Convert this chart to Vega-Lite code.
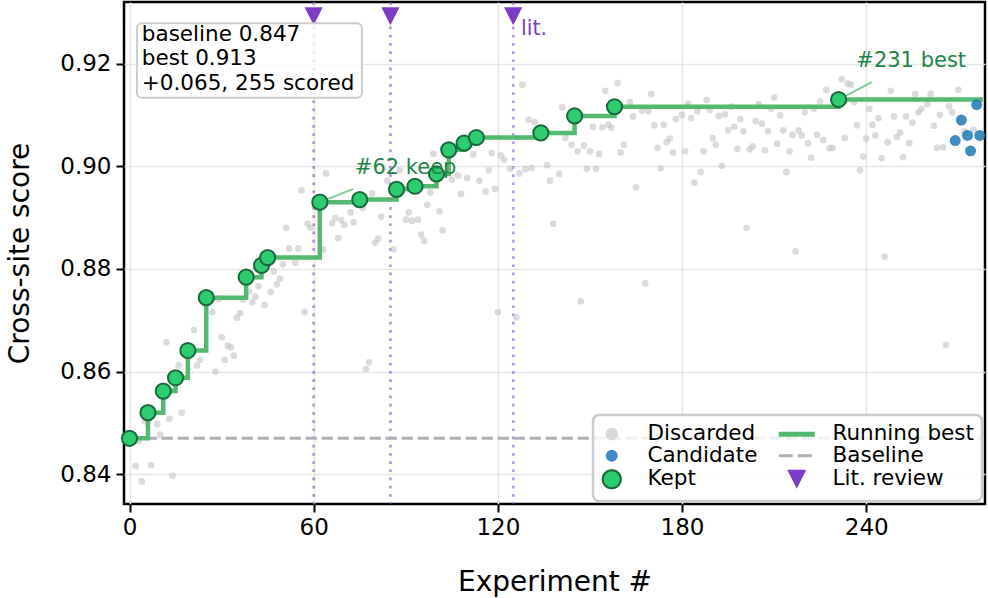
{
  "$schema": "https://vega.github.io/schema/vega-lite/v6.json",
  "autosize": {"type": "none"},
  "width": 861,
  "height": 502,
  "padding": {"left": 124, "top": 2, "right": 3, "bottom": 94},
  "background": "white",
  "config": {
    "font": "DejaVu Sans",
    "view": {"stroke": "black", "strokeWidth": 2.5},
    "legend": {"strokeWidth": 2.5},
    "axis": {
      "domain": false,
      "grid": true,
      "gridColor": "#e6e6e6",
      "gridWidth": 1.5,
      "tickColor": "black",
      "tickWidth": 2,
      "tickSize": 8,
      "labelColor": "black",
      "labelFontSize": 23,
      "titleColor": "black",
      "titleFontSize": 28,
      "titleFontWeight": "normal"
    }
  },
  "datasets": {
    "runs": [
      {"exp": 0, "score": 0.847, "status": "Kept"},
      {"exp": 6, "score": 0.852, "status": "Kept"},
      {"exp": 11, "score": 0.8562, "status": "Kept"},
      {"exp": 15, "score": 0.8588, "status": "Kept"},
      {"exp": 19, "score": 0.8641, "status": "Kept"},
      {"exp": 25, "score": 0.8744, "status": "Kept"},
      {"exp": 38, "score": 0.8784, "status": "Kept"},
      {"exp": 43, "score": 0.8807, "status": "Kept"},
      {"exp": 45, "score": 0.8822, "status": "Kept"},
      {"exp": 62, "score": 0.893, "status": "Kept", "note": "#62 keep"},
      {"exp": 75, "score": 0.8935, "status": "Kept"},
      {"exp": 87, "score": 0.8955, "status": "Kept"},
      {"exp": 93, "score": 0.8961, "status": "Kept"},
      {"exp": 100, "score": 0.8985, "status": "Kept"},
      {"exp": 104, "score": 0.9032, "status": "Kept"},
      {"exp": 109, "score": 0.9045, "status": "Kept"},
      {"exp": 113, "score": 0.9056, "status": "Kept"},
      {"exp": 134, "score": 0.9065, "status": "Kept"},
      {"exp": 145, "score": 0.9098, "status": "Kept"},
      {"exp": 158, "score": 0.9116, "status": "Kept"},
      {"exp": 231, "score": 0.913, "status": "Kept", "note": "#231 best"},
      {"exp": 269, "score": 0.905, "status": "Candidate"},
      {"exp": 271, "score": 0.909, "status": "Candidate"},
      {"exp": 273, "score": 0.906, "status": "Candidate"},
      {"exp": 274, "score": 0.903, "status": "Candidate"},
      {"exp": 276, "score": 0.912, "status": "Candidate"},
      {"exp": 277, "score": 0.906, "status": "Candidate"},
      {"exp": 2, "score": 0.8416, "status": "Discarded"},
      {"exp": 3, "score": 0.8465, "status": "Discarded"},
      {"exp": 4, "score": 0.8386, "status": "Discarded"},
      {"exp": 5, "score": 0.8503, "status": "Discarded"},
      {"exp": 7, "score": 0.8418, "status": "Discarded"},
      {"exp": 9, "score": 0.8498, "status": "Discarded"},
      {"exp": 10, "score": 0.8477, "status": "Discarded"},
      {"exp": 12, "score": 0.8657, "status": "Discarded"},
      {"exp": 13, "score": 0.8508, "status": "Discarded"},
      {"exp": 14, "score": 0.8397, "status": "Discarded"},
      {"exp": 16, "score": 0.8612, "status": "Discarded"},
      {"exp": 17, "score": 0.852, "status": "Discarded"},
      {"exp": 21, "score": 0.8681, "status": "Discarded"},
      {"exp": 22, "score": 0.8612, "status": "Discarded"},
      {"exp": 23, "score": 0.8623, "status": "Discarded"},
      {"exp": 27, "score": 0.8716, "status": "Discarded"},
      {"exp": 28, "score": 0.86, "status": "Discarded"},
      {"exp": 29, "score": 0.8741, "status": "Discarded"},
      {"exp": 30, "score": 0.8667, "status": "Discarded"},
      {"exp": 31, "score": 0.8623, "status": "Discarded"},
      {"exp": 32, "score": 0.865, "status": "Discarded"},
      {"exp": 33, "score": 0.8647, "status": "Discarded"},
      {"exp": 34, "score": 0.8631, "status": "Discarded"},
      {"exp": 35, "score": 0.8705, "status": "Discarded"},
      {"exp": 36, "score": 0.8714, "status": "Discarded"},
      {"exp": 37, "score": 0.874, "status": "Discarded"},
      {"exp": 39, "score": 0.8756, "status": "Discarded"},
      {"exp": 40, "score": 0.8735, "status": "Discarded"},
      {"exp": 41, "score": 0.8746, "status": "Discarded"},
      {"exp": 42, "score": 0.8766, "status": "Discarded"},
      {"exp": 44, "score": 0.873, "status": "Discarded"},
      {"exp": 46, "score": 0.8755, "status": "Discarded"},
      {"exp": 47, "score": 0.8795, "status": "Discarded"},
      {"exp": 48, "score": 0.877, "status": "Discarded"},
      {"exp": 49, "score": 0.8781, "status": "Discarded"},
      {"exp": 50, "score": 0.8809, "status": "Discarded"},
      {"exp": 51, "score": 0.888, "status": "Discarded"},
      {"exp": 52, "score": 0.884, "status": "Discarded"},
      {"exp": 54, "score": 0.8812, "status": "Discarded"},
      {"exp": 55, "score": 0.884, "status": "Discarded"},
      {"exp": 56, "score": 0.8953, "status": "Discarded"},
      {"exp": 57, "score": 0.8716, "status": "Discarded"},
      {"exp": 58, "score": 0.8888, "status": "Discarded"},
      {"exp": 59, "score": 0.888, "status": "Discarded"},
      {"exp": 63, "score": 0.8838, "status": "Discarded"},
      {"exp": 64, "score": 0.8986, "status": "Discarded"},
      {"exp": 66, "score": 0.8889, "status": "Discarded"},
      {"exp": 67, "score": 0.8899, "status": "Discarded"},
      {"exp": 68, "score": 0.886, "status": "Discarded"},
      {"exp": 69, "score": 0.8895, "status": "Discarded"},
      {"exp": 70, "score": 0.8886, "status": "Discarded"},
      {"exp": 72, "score": 0.891, "status": "Discarded"},
      {"exp": 73, "score": 0.8891, "status": "Discarded"},
      {"exp": 76, "score": 0.8919, "status": "Discarded"},
      {"exp": 77, "score": 0.8605, "status": "Discarded"},
      {"exp": 78, "score": 0.8618, "status": "Discarded"},
      {"exp": 79, "score": 0.8947, "status": "Discarded"},
      {"exp": 80, "score": 0.8851, "status": "Discarded"},
      {"exp": 81, "score": 0.8859, "status": "Discarded"},
      {"exp": 82, "score": 0.8902, "status": "Discarded"},
      {"exp": 84, "score": 0.8972, "status": "Discarded"},
      {"exp": 86, "score": 0.8838, "status": "Discarded"},
      {"exp": 88, "score": 0.8992, "status": "Discarded"},
      {"exp": 90, "score": 0.8896, "status": "Discarded"},
      {"exp": 91, "score": 0.891, "status": "Discarded"},
      {"exp": 92, "score": 0.8894, "status": "Discarded"},
      {"exp": 94, "score": 0.8896, "status": "Discarded"},
      {"exp": 95, "score": 0.8867, "status": "Discarded"},
      {"exp": 96, "score": 0.8855, "status": "Discarded"},
      {"exp": 97, "score": 0.8925, "status": "Discarded"},
      {"exp": 98, "score": 0.8949, "status": "Discarded"},
      {"exp": 99, "score": 0.9024, "status": "Discarded"},
      {"exp": 101, "score": 0.8912, "status": "Discarded"},
      {"exp": 102, "score": 0.8875, "status": "Discarded"},
      {"exp": 105, "score": 0.8974, "status": "Discarded"},
      {"exp": 107, "score": 0.8982, "status": "Discarded"},
      {"exp": 108, "score": 0.8946, "status": "Discarded"},
      {"exp": 110, "score": 0.8977, "status": "Discarded"},
      {"exp": 112, "score": 0.9023, "status": "Discarded"},
      {"exp": 114, "score": 0.8972, "status": "Discarded"},
      {"exp": 116, "score": 0.8951, "status": "Discarded"},
      {"exp": 117, "score": 0.8992, "status": "Discarded"},
      {"exp": 118, "score": 0.9026, "status": "Discarded"},
      {"exp": 119, "score": 0.8956, "status": "Discarded"},
      {"exp": 120, "score": 0.8716, "status": "Discarded"},
      {"exp": 121, "score": 0.9021, "status": "Discarded"},
      {"exp": 122, "score": 0.9013, "status": "Discarded"},
      {"exp": 124, "score": 0.8995, "status": "Discarded"},
      {"exp": 126, "score": 0.8706, "status": "Discarded"},
      {"exp": 127, "score": 0.8986, "status": "Discarded"},
      {"exp": 128, "score": 0.9159, "status": "Discarded"},
      {"exp": 129, "score": 0.8994, "status": "Discarded"},
      {"exp": 130, "score": 0.9091, "status": "Discarded"},
      {"exp": 131, "score": 0.8997, "status": "Discarded"},
      {"exp": 132, "score": 0.9086, "status": "Discarded"},
      {"exp": 136, "score": 0.9002, "status": "Discarded"},
      {"exp": 137, "score": 0.8972, "status": "Discarded"},
      {"exp": 138, "score": 0.8888, "status": "Discarded"},
      {"exp": 140, "score": 0.8985, "status": "Discarded"},
      {"exp": 141, "score": 0.9115, "status": "Discarded"},
      {"exp": 142, "score": 0.9055, "status": "Discarded"},
      {"exp": 144, "score": 0.9042, "status": "Discarded"},
      {"exp": 146, "score": 0.9029, "status": "Discarded"},
      {"exp": 147, "score": 0.8737, "status": "Discarded"},
      {"exp": 148, "score": 0.904, "status": "Discarded"},
      {"exp": 149, "score": 0.8995, "status": "Discarded"},
      {"exp": 150, "score": 0.9029, "status": "Discarded"},
      {"exp": 151, "score": 0.9077, "status": "Discarded"},
      {"exp": 152, "score": 0.8995, "status": "Discarded"},
      {"exp": 153, "score": 0.9024, "status": "Discarded"},
      {"exp": 154, "score": 0.9076, "status": "Discarded"},
      {"exp": 155, "score": 0.9147, "status": "Discarded"},
      {"exp": 156, "score": 0.9081, "status": "Discarded"},
      {"exp": 157, "score": 0.9075, "status": "Discarded"},
      {"exp": 159, "score": 0.9162, "status": "Discarded"},
      {"exp": 160, "score": 0.9027, "status": "Discarded"},
      {"exp": 161, "score": 0.9042, "status": "Discarded"},
      {"exp": 163, "score": 0.9125, "status": "Discarded"},
      {"exp": 164, "score": 0.9097, "status": "Discarded"},
      {"exp": 165, "score": 0.8959, "status": "Discarded"},
      {"exp": 167, "score": 0.9108, "status": "Discarded"},
      {"exp": 168, "score": 0.8772, "status": "Discarded"},
      {"exp": 169, "score": 0.9107, "status": "Discarded"},
      {"exp": 170, "score": 0.9141, "status": "Discarded"},
      {"exp": 171, "score": 0.908, "status": "Discarded"},
      {"exp": 172, "score": 0.9036, "status": "Discarded"},
      {"exp": 173, "score": 0.8996, "status": "Discarded"},
      {"exp": 174, "score": 0.9081, "status": "Discarded"},
      {"exp": 175, "score": 0.9047, "status": "Discarded"},
      {"exp": 176, "score": 0.9054, "status": "Discarded"},
      {"exp": 177, "score": 0.9027, "status": "Discarded"},
      {"exp": 178, "score": 0.9092, "status": "Discarded"},
      {"exp": 180, "score": 0.91, "status": "Discarded"},
      {"exp": 181, "score": 0.9029, "status": "Discarded"},
      {"exp": 182, "score": 0.9122, "status": "Discarded"},
      {"exp": 183, "score": 0.9094, "status": "Discarded"},
      {"exp": 184, "score": 0.8968, "status": "Discarded"},
      {"exp": 185, "score": 0.9107, "status": "Discarded"},
      {"exp": 186, "score": 0.8989, "status": "Discarded"},
      {"exp": 187, "score": 0.9029, "status": "Discarded"},
      {"exp": 188, "score": 0.9129, "status": "Discarded"},
      {"exp": 189, "score": 0.911, "status": "Discarded"},
      {"exp": 190, "score": 0.9055, "status": "Discarded"},
      {"exp": 191, "score": 0.9042, "status": "Discarded"},
      {"exp": 192, "score": 0.9098, "status": "Discarded"},
      {"exp": 193, "score": 0.9001, "status": "Discarded"},
      {"exp": 194, "score": 0.9101, "status": "Discarded"},
      {"exp": 195, "score": 0.907, "status": "Discarded"},
      {"exp": 196, "score": 0.9116, "status": "Discarded"},
      {"exp": 197, "score": 0.9077, "status": "Discarded"},
      {"exp": 198, "score": 0.9034, "status": "Discarded"},
      {"exp": 199, "score": 0.9092, "status": "Discarded"},
      {"exp": 200, "score": 0.9068, "status": "Discarded"},
      {"exp": 201, "score": 0.888, "status": "Discarded"},
      {"exp": 202, "score": 0.9033, "status": "Discarded"},
      {"exp": 203, "score": 0.9039, "status": "Discarded"},
      {"exp": 204, "score": 0.9088, "status": "Discarded"},
      {"exp": 205, "score": 0.9121, "status": "Discarded"},
      {"exp": 206, "score": 0.9083, "status": "Discarded"},
      {"exp": 207, "score": 0.9031, "status": "Discarded"},
      {"exp": 208, "score": 0.9068, "status": "Discarded"},
      {"exp": 209, "score": 0.9112, "status": "Discarded"},
      {"exp": 210, "score": 0.9134, "status": "Discarded"},
      {"exp": 211, "score": 0.9044, "status": "Discarded"},
      {"exp": 212, "score": 0.9099, "status": "Discarded"},
      {"exp": 213, "score": 0.907, "status": "Discarded"},
      {"exp": 214, "score": 0.8989, "status": "Discarded"},
      {"exp": 215, "score": 0.9029, "status": "Discarded"},
      {"exp": 216, "score": 0.9061, "status": "Discarded"},
      {"exp": 217, "score": 0.8834, "status": "Discarded"},
      {"exp": 218, "score": 0.907, "status": "Discarded"},
      {"exp": 219, "score": 0.906, "status": "Discarded"},
      {"exp": 220, "score": 0.9105, "status": "Discarded"},
      {"exp": 221, "score": 0.9045, "status": "Discarded"},
      {"exp": 222, "score": 0.9017, "status": "Discarded"},
      {"exp": 223, "score": 0.9112, "status": "Discarded"},
      {"exp": 224, "score": 0.9061, "status": "Discarded"},
      {"exp": 225, "score": 0.9126, "status": "Discarded"},
      {"exp": 226, "score": 0.9051, "status": "Discarded"},
      {"exp": 227, "score": 0.9149, "status": "Discarded"},
      {"exp": 228, "score": 0.9035, "status": "Discarded"},
      {"exp": 229, "score": 0.9036, "status": "Discarded"},
      {"exp": 232, "score": 0.917, "status": "Discarded"},
      {"exp": 233, "score": 0.9055, "status": "Discarded"},
      {"exp": 234, "score": 0.9161, "status": "Discarded"},
      {"exp": 235, "score": 0.9159, "status": "Discarded"},
      {"exp": 236, "score": 0.9125, "status": "Discarded"},
      {"exp": 237, "score": 0.908, "status": "Discarded"},
      {"exp": 238, "score": 0.8992, "status": "Discarded"},
      {"exp": 239, "score": 0.9019, "status": "Discarded"},
      {"exp": 240, "score": 0.9054, "status": "Discarded"},
      {"exp": 241, "score": 0.9112, "status": "Discarded"},
      {"exp": 242, "score": 0.9081, "status": "Discarded"},
      {"exp": 243, "score": 0.906, "status": "Discarded"},
      {"exp": 244, "score": 0.9094, "status": "Discarded"},
      {"exp": 245, "score": 0.9016, "status": "Discarded"},
      {"exp": 246, "score": 0.8824, "status": "Discarded"},
      {"exp": 247, "score": 0.9047, "status": "Discarded"},
      {"exp": 248, "score": 0.9147, "status": "Discarded"},
      {"exp": 249, "score": 0.9097, "status": "Discarded"},
      {"exp": 250, "score": 0.9057, "status": "Discarded"},
      {"exp": 251, "score": 0.9066, "status": "Discarded"},
      {"exp": 252, "score": 0.9018, "status": "Discarded"},
      {"exp": 253, "score": 0.9097, "status": "Discarded"},
      {"exp": 254, "score": 0.9045, "status": "Discarded"},
      {"exp": 255, "score": 0.9085, "status": "Discarded"},
      {"exp": 256, "score": 0.9141, "status": "Discarded"},
      {"exp": 257, "score": 0.9105, "status": "Discarded"},
      {"exp": 258, "score": 0.9112, "status": "Discarded"},
      {"exp": 260, "score": 0.9121, "status": "Discarded"},
      {"exp": 261, "score": 0.9141, "status": "Discarded"},
      {"exp": 262, "score": 0.9079, "status": "Discarded"},
      {"exp": 263, "score": 0.9036, "status": "Discarded"},
      {"exp": 264, "score": 0.91, "status": "Discarded"},
      {"exp": 265, "score": 0.9037, "status": "Discarded"},
      {"exp": 266, "score": 0.8652, "status": "Discarded"},
      {"exp": 267, "score": 0.9117, "status": "Discarded"},
      {"exp": 268, "score": 0.9105, "status": "Discarded"},
      {"exp": 270, "score": 0.9149, "status": "Discarded"},
      {"exp": 272, "score": 0.9068, "status": "Discarded"},
      {"exp": 275, "score": 0.9071, "status": "Discarded"}
    ],
    "best_path": [
      {"exp": 0, "best": 0.847},
      {"exp": 6, "best": 0.852},
      {"exp": 11, "best": 0.8562},
      {"exp": 15, "best": 0.8588},
      {"exp": 19, "best": 0.8641},
      {"exp": 25, "best": 0.8744},
      {"exp": 38, "best": 0.8784},
      {"exp": 43, "best": 0.8807},
      {"exp": 45, "best": 0.8822},
      {"exp": 62, "best": 0.893},
      {"exp": 75, "best": 0.8935},
      {"exp": 87, "best": 0.8955},
      {"exp": 93, "best": 0.8961},
      {"exp": 100, "best": 0.8985},
      {"exp": 104, "best": 0.9032},
      {"exp": 109, "best": 0.9045},
      {"exp": 113, "best": 0.9056},
      {"exp": 134, "best": 0.9065},
      {"exp": 145, "best": 0.9098},
      {"exp": 158, "best": 0.9116},
      {"exp": 231, "best": 0.913},
      {"exp": 278, "best": 0.913}
    ],
    "lit": [
      {"exp": 60},
      {"exp": 85},
      {"exp": 125, "note": "lit."}
    ],
    "summary": [
      {"baseline": 0.847, "best": 0.913, "scored": 255, "first": 0, "last": 278}
    ],
    "keys": [
      {"series": "Discarded"},
      {"series": "Candidate"},
      {"series": "Kept"},
      {"series": "Running best"},
      {"series": "Baseline"},
      {"series": "Lit. review"}
    ]
  },
  "encoding": {
    "x": {
      "type": "quantitative",
      "scale": {"domain": [-1.8, 278.7], "nice": false, "zero": false},
      "axis": {"title": "Experiment #", "values": [0, 60, 120, 180, 240], "labelPadding": 4, "titlePadding": 29}
    },
    "y": {
      "type": "quantitative",
      "scale": {"domain": [0.8342, 0.932], "nice": false, "zero": false},
      "axis": {"title": "Cross-site score", "values": [0.84, 0.86, 0.88, 0.9, 0.92], "format": ".2f", "labelPadding": 5, "titlePadding": 25}
    }
  },
  "layer": [
    {
      "data": {"name": "lit"},
      "mark": {"type": "rule", "color": "#7d3cc8", "opacity": 0.55, "strokeWidth": 2.7, "strokeDash": [2.7, 5.5]},
      "encoding": {"x": {"field": "exp"}}
    },
    {
      "data": {"name": "summary"},
      "mark": {"type": "rule", "color": "#aab2b7", "strokeWidth": 3, "strokeDash": [11.5, 4.5]},
      "encoding": {"x": {"field": "first"}, "x2": {"field": "last"}, "y": {"field": "baseline"}}
    },
    {
      "data": {"name": "runs"},
      "transform": [{"filter": "datum.status === 'Discarded'"}],
      "mark": {"type": "circle", "color": "#bdbdbd", "opacity": 0.55, "size": 45},
      "encoding": {"x": {"field": "exp"}, "y": {"field": "score"}}
    },
    {
      "data": {"name": "best_path"},
      "mark": {"type": "line", "color": "#52b96f", "strokeWidth": 4.5, "interpolate": "step-after"},
      "encoding": {"x": {"field": "exp"}, "y": {"field": "best"}}
    },
    {
      "data": {"name": "runs"},
      "transform": [{"filter": "datum.note === '#62 keep'"}],
      "mark": {"type": "rule", "color": "#82cc9a", "strokeWidth": 2},
      "encoding": {"x": {"field": "exp"}, "y": {"field": "score"}, "x2": {"datum": 72.9}, "y2": {"datum": 0.8956}}
    },
    {
      "data": {"name": "runs"},
      "transform": [{"filter": "datum.note === '#231 best'"}],
      "mark": {"type": "rule", "color": "#82cc9a", "strokeWidth": 2},
      "encoding": {"x": {"field": "exp"}, "y": {"field": "score"}, "x2": {"datum": 241.8}, "y2": {"datum": 0.9164}}
    },
    {
      "data": {"name": "runs"},
      "transform": [{"filter": "datum.status === 'Kept'"}],
      "mark": {"type": "point", "shape": "circle", "filled": true, "fill": "#2ecc71", "stroke": "#186a3b", "strokeWidth": 2, "size": 230, "opacity": 1},
      "encoding": {"x": {"field": "exp"}, "y": {"field": "score"}}
    },
    {
      "data": {"name": "runs"},
      "transform": [{"filter": "datum.status === 'Candidate'"}],
      "mark": {"type": "circle", "color": "#1f77b4", "opacity": 0.85, "size": 120},
      "encoding": {"x": {"field": "exp"}, "y": {"field": "score"}}
    },
    {
      "data": {"name": "runs"},
      "transform": [{"filter": "datum.note === '#62 keep'"}],
      "mark": {"type": "text", "align": "left", "baseline": "alphabetic", "dx": 35, "dy": -28.4, "fontSize": 21, "color": "#1e8449"},
      "encoding": {"x": {"field": "exp"}, "y": {"field": "score"}, "text": {"field": "note"}}
    },
    {
      "data": {"name": "runs"},
      "transform": [{"filter": "datum.note === '#231 best'"}],
      "mark": {"type": "text", "align": "left", "baseline": "alphabetic", "dx": 17.7, "dy": -33, "fontSize": 21, "color": "#1e8449"},
      "encoding": {"x": {"field": "exp"}, "y": {"field": "score"}, "text": {"field": "note"}}
    },
    {
      "data": {"name": "lit"},
      "mark": {"type": "point", "shape": "M-1,-1L1,-1L0,1Z", "filled": true, "color": "#7d3cc8", "opacity": 1, "size": 330, "clip": false},
      "encoding": {"x": {"field": "exp"}, "y": {"datum": 0.92922}}
    },
    {
      "data": {"name": "lit"},
      "transform": [{"filter": "isValid(datum.note)"}],
      "mark": {"type": "text", "align": "left", "baseline": "alphabetic", "dx": 7.8, "fontSize": 20.5, "color": "#7d3cc8"},
      "encoding": {"x": {"field": "exp"}, "y": {"datum": 0.92566}, "text": {"field": "note"}}
    },
    {
      "data": {"name": "summary"},
      "mark": {"type": "rect", "fill": "white", "fillOpacity": 0.8, "stroke": "#cccccc", "strokeWidth": 2, "cornerRadius": 5},
      "encoding": {"x": {"datum": 2.4}, "x2": {"datum": 75.7}, "y": {"datum": 0.92786}, "y2": {"datum": 0.91333}}
    },
    {
      "data": {"name": "summary"},
      "mark": {"type": "text", "align": "left", "baseline": "alphabetic", "fontSize": 21.5, "lineHeight": 24.5, "color": "black", "text": ["baseline 0.847", "best 0.913", "+0.065, 255 scored"]},
      "encoding": {"x": {"datum": 4.0}, "y": {"datum": 0.92449}}
    },
    {
      "data": {"name": "keys"},
      "mark": {"type": "point", "filled": true, "opacity": 1, "clip": true},
      "encoding": {
        "x": {"datum": -60},
        "y": {"datum": 0.8},
        "fill": {
          "field": "series",
          "type": "nominal",
          "scale": {
            "domain": ["Discarded", "Candidate", "Kept", "Running best", "Baseline", "Lit. review"],
            "range": ["#d9d9d9", "#3f88c4", "#2ecc71", "transparent", "transparent", "#7d3cc8"]
          },
          "legend": {
            "title": null,
            "orient": "bottom-right",
            "offset": 3,
            "columns": 2,
            "padding": 8,
            "fillColor": "rgba(255,255,255,0.8)",
            "strokeColor": "#cccccc",
            "cornerRadius": 6,
            "labelFontSize": 21.5,
            "labelColor": "black",
            "labelOffset": 25,
            "symbolOffset": 0,
            "columnPadding": 10,
            "rowPadding": -1.5,
            "symbolFillColor": "transparent",
            "symbolStrokeColor": "transparent",
            "labelLimit": 300
          }
        },
        "stroke": {
          "field": "series",
          "type": "nominal",
          "scale": {
            "domain": ["Discarded", "Candidate", "Kept", "Running best", "Baseline", "Lit. review"],
            "range": ["#d9d9d9", "#3f88c4", "#186a3b", "#52b96f", "#aab2b7", "#7d3cc8"]
          }
        },
        "shape": {
          "field": "series",
          "type": "nominal",
          "scale": {
            "domain": ["Discarded", "Candidate", "Kept", "Running best", "Baseline", "Lit. review"],
            "range": ["circle", "circle", "circle", "M-3,0H3", "M-3,0H3", "M-1,-1L1,-1L0,1Z"]
          }
        },
        "size": {
          "field": "series",
          "type": "nominal",
          "scale": {
            "type": "ordinal",
            "domain": ["Discarded", "Candidate", "Kept", "Running best", "Baseline", "Lit. review"],
            "range": [160, 140, 324, 144, 144, 361]
          }
        },
        "strokeWidth": {
          "field": "series",
          "type": "nominal",
          "scale": {
            "type": "ordinal",
            "domain": ["Discarded", "Candidate", "Kept", "Running best", "Baseline", "Lit. review"],
            "range": [0, 0, 2.2, 5, 3, 0]
          }
        },
        "strokeDash": {
          "field": "series",
          "type": "nominal",
          "scale": {
            "domain": ["Discarded", "Candidate", "Kept", "Running best", "Baseline", "Lit. review"],
            "range": [[1, 0], [1, 0], [1, 0], [1, 0], [14, 5], [1, 0]]
          }
        }
      }
    }
  ]
}
